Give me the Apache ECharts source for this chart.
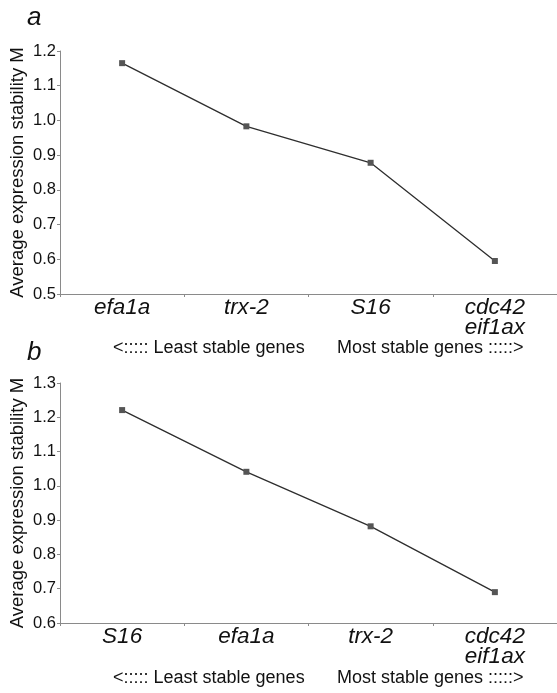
<!DOCTYPE html>
<html>
<head>
<meta charset="utf-8">
<script src="https://cdn.jsdelivr.net/npm/echarts@6/dist/echarts.min.js"></script>
<style>html,body{margin:0;padding:0;background:#fff}#c{width:557px;height:693px}</style>
</head>
<body>
<div id="c"></div>
<script>
const categoriesA = ['efa1a', 'trx-2', 'S16', 'cdc42\neif1ax'];
const valuesA = [1.165, 0.983, 0.878, 0.595];
const categoriesB = ['S16', 'efa1a', 'trx-2', 'cdc42\neif1ax'];
const valuesB = [1.221, 1.041, 0.882, 0.690];
const yTitle = 'Average expression stability M';
const leastText = '<::::: Least stable genes';
const mostText = 'Most stable genes :::::>';

const font = '"Liberation Sans", Arial, sans-serif';
function xAxisCfg(idx, cats) {
  return {
    type: 'category', gridIndex: idx, data: cats, boundaryGap: true,
    axisLine: {lineStyle: {color: '#8a8a8a', width: 1}},
    axisTick: {show: true, length: 3, lineStyle: {color: '#8a8a8a'}},
    axisLabel: {fontFamily: font, fontStyle: 'italic', fontSize: 22.5, color: '#111', margin: 4, lineHeight: 20, interval: 0}
  };
}
function yAxisCfg(idx, min, max) {
  return {
    type: 'value', gridIndex: idx, min: min, max: max, interval: 0.1,
    name: yTitle, nameLocation: 'middle', nameGap: 33, nameRotate: 90, nameMoveOverlap: false,
    nameTextStyle: {fontFamily: font, fontSize: 18.5, color: '#111'},
    axisLine: {show: true, lineStyle: {color: '#8a8a8a', width: 1}},
    axisTick: {show: true, length: 3, lineStyle: {color: '#8a8a8a'}},
    splitLine: {show: false},
    axisLabel: {fontFamily: font, fontSize: 16.5, color: '#111', margin: 4,
      formatter: v => v.toFixed(1)}
  };
}
function seriesCfg(idx, vals) {
  return {
    type: 'line', xAxisIndex: idx, yAxisIndex: idx, data: vals,
    symbol: 'rect', symbolSize: 6, showSymbol: true,
    lineStyle: {color: '#2e2e2e', width: 1.3},
    itemStyle: {color: '#555'}, animation: false
  };
}
const chart = echarts.init(document.getElementById('c'));
chart.setOption({
  backgroundColor: '#fff',
  animation: false,
  grid: [
    {left: 60, right: 0, top: 51, height: 243, containLabel: false, outerBoundsMode: 'none'},
    {left: 60, right: 0, top: 383, height: 240, containLabel: false, outerBoundsMode: 'none'}
  ],
  xAxis: [xAxisCfg(0, categoriesA), xAxisCfg(1, categoriesB)],
  yAxis: [yAxisCfg(0, 0.5, 1.2), yAxisCfg(1, 0.6, 1.3)],
  series: [seriesCfg(0, valuesA), seriesCfg(1, valuesB)],
  graphic: [
    {type: 'text', left: 27, top: 5, style: {text: 'a', font: 'italic 26px ' + font, fill: '#111'}},
    {type: 'text', left: 27, top: 340, style: {text: 'b', font: 'italic 26px ' + font, fill: '#111'}},
    {type: 'text', left: 113, top: 339, style: {text: leastText, font: '18px ' + font, fill: '#111'}},
    {type: 'text', left: 337, top: 339, style: {text: mostText, font: '18px ' + font, fill: '#111'}},
    {type: 'text', left: 113, top: 669, style: {text: leastText, font: '18px ' + font, fill: '#111'}},
    {type: 'text', left: 337, top: 669, style: {text: mostText, font: '18px ' + font, fill: '#111'}}
  ]
});
</script>
</body>
</html>
